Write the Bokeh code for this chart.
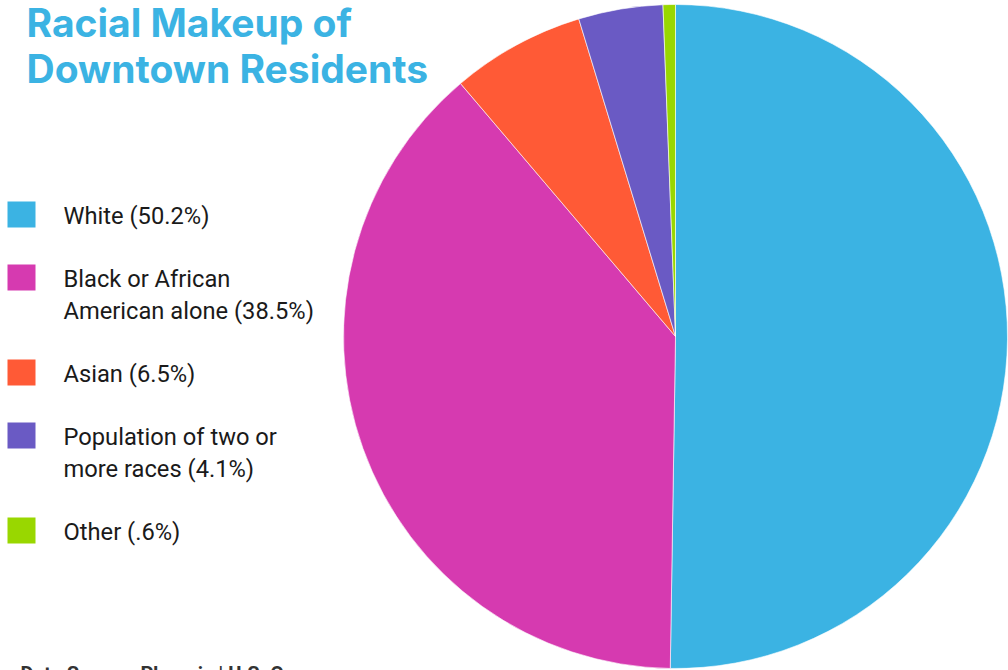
import numpy as np
from bokeh.plotting import figure
from bokeh.models import Range1d, ColumnDataSource
from bokeh.core.properties import value
from bokeh.embed import file_html
from bokeh.resources import INLINE

# ---- data ----
categories = ["White", "Black or African American alone", "Asian",
              "Population of two or more races", "Other"]
shares = [50.2, 38.5, 6.5, 4.1, 0.6]
legend_labels = ["White (50.2%)", "Black or African\nAmerican alone (38.5%)",
                 "Asian (6.5%)", "Population of two or\nmore races (4.1%)", "Other (.6%)"]
colors = ["#3BB3E3", "#D63AB0", "#FF5A36", "#6A5AC4", "#99D700"]
title_lines = ["Racial Makeup of", "Downtown Residents"]
source_note = "Data Source: Phoenix | U.S. Census"

# ---- layout ----
W, H = 1008, 670
p = figure(width=W, height=H, x_range=Range1d(0, W), y_range=Range1d(0, H),
           output_backend="svg", toolbar_location=None, min_border=0,
           outline_line_color=None)
p.axis.visible = False
p.grid.visible = False
p.background_fill_color = "white"
p.border_fill_color = "white"

# pie
cx, cy, r = 675, H - 336, 332
total = sum(shares)
cum = np.cumsum([0] + shares)
start = np.pi / 2 - 2 * np.pi * cum[:-1] / total
end = np.pi / 2 - 2 * np.pi * cum[1:] / total
pie_src = ColumnDataSource(dict(cat=categories, start=start, end=end, color=colors))
p.wedge(x=cx, y=cy, radius=r, start_angle="start", end_angle="end",
        direction="clock", fill_color="color", line_color="white",
        line_width=0.6, source=pie_src)

# legend
sq_x, sq_w, sq_h = 21, 28, 26
row_gap, line_gap = 63, 32
first_top = 201
sq_y, tx, ty, tl = [], [], [], []
extra = 0
for i, lab in enumerate(legend_labels):
    top = first_top + row_gap * i + line_gap * extra
    center = top + sq_h / 2
    sq_y.append(H - center)
    lines = lab.split("\n")
    for k, ln in enumerate(lines):
        tx.append(63)
        ty.append(H - (center + line_gap * k + 1))
        tl.append(ln)
    extra += len(lines) - 1
p.rect(x=[sq_x] * len(sq_y), y=sq_y, width=sq_w, height=sq_h,
       fill_color=colors, line_color=None)
p.text(x=tx, y=ty, text=tl, text_font=value("Roboto"), text_font_size="23.7px",
       text_color="#1a1a1a", text_baseline="middle", text_align="left")

# title
p.text(x=[26, 26], y=[H - 22, H - 68], text=title_lines, text_font=value("Inter"),
       text_font_style="bold", text_font_size="39px", text_color="#3BB3E3",
       text_baseline="middle", text_align="left")

# source note (cut off at bottom, as in the reference)
p.text(x=[20], y=[H - 661], text=[source_note], text_font=value("Roboto"),
       text_font_style="bold", text_font_size="20px", text_color="#333333",
       text_baseline="top", text_align="left")

open("out.html", "w").write(file_html(p, INLINE))
